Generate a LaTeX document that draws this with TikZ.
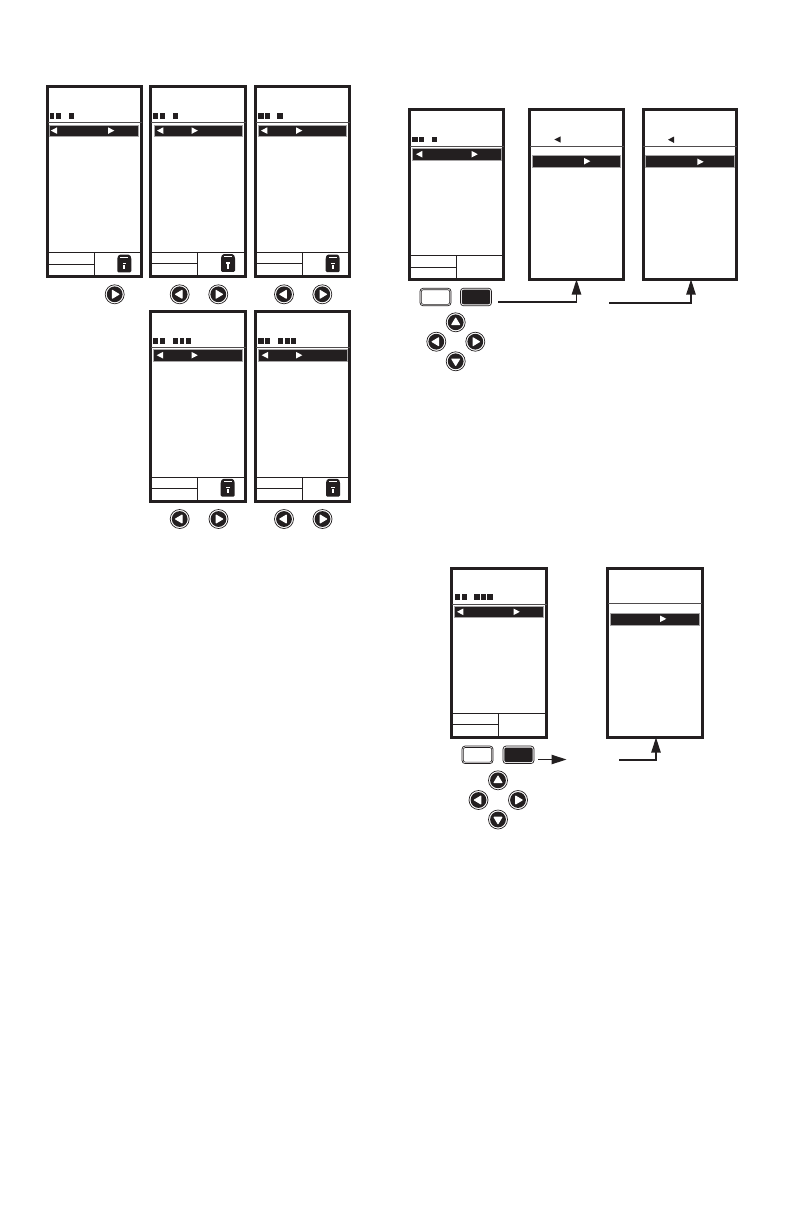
\documentclass[tikz,border=0pt]{standalone}
\usetikzlibrary{arrows.meta}
\definecolor{ink}{HTML}{231F20}
\tikzset{
  screenbox/.style={draw=ink,line width=3pt,fill=white,rectangle,inner sep=0pt,outer sep=0pt},
  thinrule/.style={draw=ink,line width=0.8pt},
  headrule/.style={draw=ink!80,line width=0.9pt},
  selbar/.style={fill=ink,draw=ink!40,line width=0.5pt},
  whitetip/.style={fill=white,draw=none},
  padbtn/.style={circle,draw=ink,line width=0.7pt,fill=white,inner sep=0pt,outer sep=0pt,minimum size=19pt},
  keybtn/.style={rectangle,rounded corners=3pt,draw=ink,line width=0.7pt,fill=white,inner sep=0pt,outer sep=0pt,minimum width=31pt,minimum height=17.5pt},
  flowline/.style={draw=ink,line width=1.1pt,-{Triangle[length=15pt,width=9.4pt]}},
}
% name, outer left, top, right, bottom
\newcommand\scrn[5]{\node[screenbox,minimum width={#4-#2-3},minimum height={#5-#3-3}] (#1) at ({(#2+#4)/2},{(#3+#5)/2}) {};}
% left, right, header y
\newcommand\hdr[3]{\draw[headrule] (#1+1.5,#3) -- (#2-1.5,#3);}
% x0,y0,x1,y1
\newcommand\selb[4]{\path[selbar] (#1,#2) rectangle (#3,#4);}
% left tip x, y centre (white triangles)
\newcommand\tipL[2]{\path[whitetip] (#1,#2) -- (#1+6.3,#2-3.3) -- (#1+6.3,#2+3.3) -- cycle;}
\newcommand\tipR[2]{\path[whitetip] (#1+6.3,#2) -- (#1,#2-3.3) -- (#1,#2+3.3) -- cycle;}
% squares y0,y1,list
\newcommand\squares[3]{\foreach \a/\b in {#3}{\fill[ink] (\a,#1-0.3) rectangle (\b,#2+0.3);}}
% bottom panel: left, right, y top, y split, x vertical, bottom
\newcommand\panel[6]{\draw[thinrule] (#1+1.5,#3) -- (#2-1.5,#3) (#1+1.5,#4) -- (#5,#4) (#5,#3) -- (#5,#6-1.5);}
% lock centre
\newcommand\lock[2]{\begin{scope}[shift={(#1,#2)}]
  \fill[ink,rounded corners=1.2pt] (-7,-5.8) -- (-5.5,-8.8) -- (5.5,-8.8) -- (7,-5.8) -- (7,8.8) -- (-7,8.8) -- cycle;
  \fill[white] (-4,-6.6) rectangle (4,-5.9);
  \fill[white] (-1.8,-0.8) rectangle (1.8,0.6);
  \fill[white] (-0.9,1.4) rectangle (0.9,5.6);
\end{scope}}
% name, x, y, rotation (0 = points right)
\newcommand\pad[4]{\node[padbtn] (#1) at (#2,#3) {};
  \begin{scope}[shift={(#2,#3)},rotate=#4]
    \fill[ink] (0,0) circle (7.9);
    \path[fill=white,draw=white,line width=1pt,line join=round] (4.2,0) -- (-2.3,-3.9) -- (-2.3,3.9) -- cycle;
  \end{scope}}
% name, x, y
\newcommand\keyw[3]{\node[keybtn] (#1) at (#2,#3) {};
  \draw[ink,line width=0.6pt,rounded corners=2pt] (#2-14.2,#3-7.3) rectangle (#2+14.2,#3+7.3);}
\newcommand\keyb[3]{\node[keybtn] (#1) at (#2,#3) {};
  \fill[ink,rounded corners=2pt] (#2-14.2,#3-7.3) rectangle (#2+14.2,#3+7.3);}
\begin{document}
\begin{tikzpicture}[x=1pt,y=-1pt]
\useasboundingbox (0,0) rectangle (792,1224);
\fill[white] (0,0) rectangle (792,1224);

% ---- left group, row 1
\scrn{a1}{46}{85}{143}{278}
\hdr{46}{143}{122.3}
\selb{49.5}{125}{138.7}{136.3}
\tipL{50.8}{130.6}\tipR{108}{130.6}
\squares{113.3}{118.7}{49.5/54.4,55.6/61,69/74}
\panel{46}{143}{252.3}{264.3}{94.3}{278}
\lock{124.3}{263.5}
\pad{a1r}{114.7}{294.3}{0}

\scrn{a2}{149}{85}{247}{278}
\hdr{149}{247}{122.3}
\selb{154}{125}{242}{136.3}
\tipL{157}{130.6}\tipR{191.5}{130.6}
\squares{113.3}{118.7}{153/158.4,159.6/165,173/178}
\panel{149}{247}{252.3}{263.3}{197.3}{278}
\lock{228}{263}
\pad{a2l}{179.7}{294.3}{180}
\pad{a2r}{218.3}{294.3}{0}

\scrn{a3}{254}{85}{351}{278}
\hdr{254}{351}{122.3}
\selb{258.3}{125}{346.7}{136.3}
\tipL{261}{130.6}\tipR{296}{130.6}
\squares{113.3}{118.7}{258/263.6,264.8/270,277/283}
\panel{254}{351}{252.3}{263.3}{302.3}{278}
\lock{332.7}{263.3}
\pad{a3l}{284}{294.3}{180}
\pad{a3r}{322.3}{294.3}{0}

% ---- left group, row 2
\scrn{a4}{149}{310}{247}{502.7}
\hdr{149}{247}{347}
\selb{153.3}{349.3}{242.3}{361}
\tipL{156.7}{355.2}\tipR{191.5}{355.2}
\squares{338.3}{343.7}{153/158.4,159.6/165,173.3/178.4,179.6/184.4,185.6/191}
\panel{149}{247}{477.3}{488.3}{197.3}{502.7}
\lock{227.7}{487.7}
\pad{a4l}{179.7}{519}{180}
\pad{a4r}{218.5}{519}{0}

\scrn{a5}{254}{310}{351}{502.7}
\hdr{254}{351}{347}
\selb{258.3}{349.3}{347}{361}
\tipL{261.7}{355.2}\tipR{296}{355.2}
\squares{338.3}{343.7}{258.3/263.8,265/270,277.7/283.4,284.6/289.6,290.8/296}
\panel{254}{351}{477.3}{488.3}{302.3}{502.7}
\lock{333}{487.7}
\pad{a5l}{284}{519}{180}
\pad{a5r}{322.5}{519}{0}

% ---- right group, top
\scrn{b1}{408}{108}{505}{281}
\hdr{408}{505}{146.3}
\selb{412.7}{148.5}{501}{160}
\tipL{416}{154.2}\tipR{471.5}{154.2}
\squares{137}{141.7}{412/418.2,419.4/424,432/437}
\panel{408}{505}{255.3}{267.3}{456.7}{281}

\scrn{b2}{528}{108}{625}{281}
\hdr{528}{625}{146.3}
\fill[ink] (554.3,139.5) -- (560.7,136.3) -- (560.7,142.7) -- cycle;
\selb{532}{155.4}{620.5}{167}
\tipR{584}{161.2}

\scrn{b3}{641.5}{108}{738}{281}
\hdr{641.5}{738}{146.3}
\fill[ink] (668,139.7) -- (674,136.5) -- (674,142.9) -- cycle;
\selb{645.3}{155.7}{734}{167.3}
\tipR{697.3}{161.8}

\keyw{b4}{435.5}{297}
\keyb{b5}{476}{297}
\pad{b6}{455.7}{322.3}{90}
\pad{b7}{436.3}{341.7}{180}
\pad{b8}{475.3}{341.7}{0}
\pad{b9}{455.7}{361.3}{-90}

\coordinate (s1) at (498,302);
\coordinate (c1) at (576.5,302);
\draw[flowline] (s1) -- (c1) -- (b2.south -| c1);
\coordinate (s2) at (609,303);
\coordinate (c2) at (691,303);
\draw[flowline] (s2) -- (c2) -- (b3.south -| c2);

% ---- right group, bottom
\scrn{d1}{450}{566.5}{548}{739}
\hdr{450}{548}{604}
\selb{454}{606}{543.7}{617.7}
\tipL{457}{611.8}\tipR{513.5}{611.8}
\squares{594.3}{599.7}{455/460.3,461.5/467,474.3/479.8,481/486,487.2/493}
\panel{450}{548}{713.3}{724.3}{498.3}{739}

\scrn{d2}{606.3}{566.5}{703.7}{739}
\hdr{606.3}{703.7}{603.7}
\selb{610.3}{613}{699.3}{625}
\tipR{660}{618.8}

\keyw{d3}{477.5}{754.8}
\keyb{d4}{518.5}{754.8}
\pad{d5}{498}{780.3}{90}
\pad{d6}{478.5}{800}{180}
\pad{d7}{518}{800}{0}
\pad{d8}{498}{819.5}{-90}

\coordinate (s3) at (538,759.5);
\coordinate (e3) at (566.5,759.5);
\draw[flowline] (s3) -- (e3);
\coordinate (s4) at (619,760);
\coordinate (c4) at (656,760);
\draw[flowline] (s4) -- (c4) -- (d2.south -| c4);
\end{tikzpicture}
\end{document}
